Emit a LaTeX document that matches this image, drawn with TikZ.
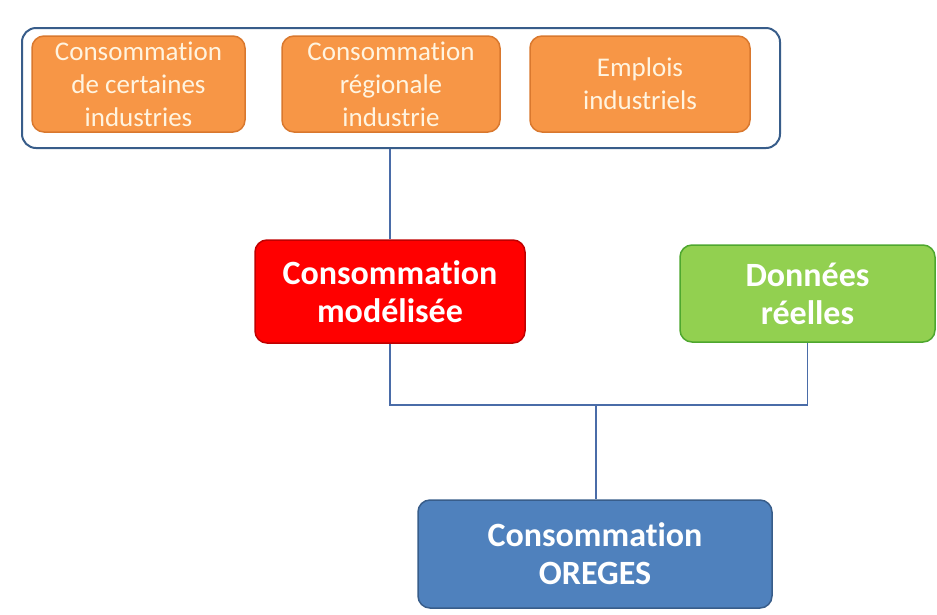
\documentclass[tikz,border=0pt]{standalone}
\usepackage{fontspec}
\setmainfont[Ligatures=NoCommon]{Carlito}
\definecolor{orfill}{HTML}{F79646}
\definecolor{ordraw}{HTML}{D9782E}
\definecolor{rdfill}{HTML}{FF0000}
\definecolor{rddraw}{HTML}{C00000}
\definecolor{grfill}{HTML}{92D050}
\definecolor{grdraw}{HTML}{4EA72E}
\definecolor{blfill}{HTML}{4F81BD}
\definecolor{bldraw}{HTML}{385D8A}
\definecolor{linec}{HTML}{4A6CA8}
\definecolor{ortext}{HTML}{FFF4E0}
\tikzset{
  orbox/.style={draw=ordraw, fill=orfill, line width=1.5pt, rounded corners=12pt, text=ortext,
    minimum width=#1, minimum height=96pt, align=center, font=\fontsize{27}{33}\selectfont, inner sep=0pt},
  bigbox/.style={line width=1.5pt, rounded corners=12pt, text=white, align=center, inner sep=0pt,
    font=\bfseries\fontsize{34}{38}\selectfont},
  conn/.style={draw=linec, line width=1.6pt}
}
\begin{document}
\begin{tikzpicture}[x=1pt,y=-1pt]
\useasboundingbox (0,0) rectangle (937,614);
\node[draw=bldraw, line width=2pt, rounded corners=14pt, minimum width=758pt, minimum height=120pt] (grp) at (401,88) {};
\node[orbox=213pt] (o1) at (138.5,84) {Consommation\\de certaines\\industries};
\node[orbox=218pt] (o2) at (391,84) {Consommation\\régionale\\industrie};
\node[orbox=220pt] (o3) at (640,84) {Emplois\\industriels};
\node[bigbox, draw=rddraw, fill=rdfill, minimum width=270pt, minimum height=103pt] (mod) at (390,291.5) {Consommation\\modélisée};
\node[bigbox, draw=grdraw, fill=grfill, minimum width=255pt, minimum height=97pt] (dr) at (807.5,293.5) {Données\\réelles};
\node[bigbox, draw=bldraw, fill=blfill, minimum width=354pt, minimum height=108pt] (or) at (595,554) {Consommation\\OREGES};
\coordinate (j) at (596,405);
\draw[conn] (grp.south -| mod.north) -- (mod.north);
\draw[conn] (mod.south) |- (j);
\draw[conn] (dr.south) |- (j);
\draw[conn] (j) -- (j |- or.north);
\end{tikzpicture}
\end{document}
